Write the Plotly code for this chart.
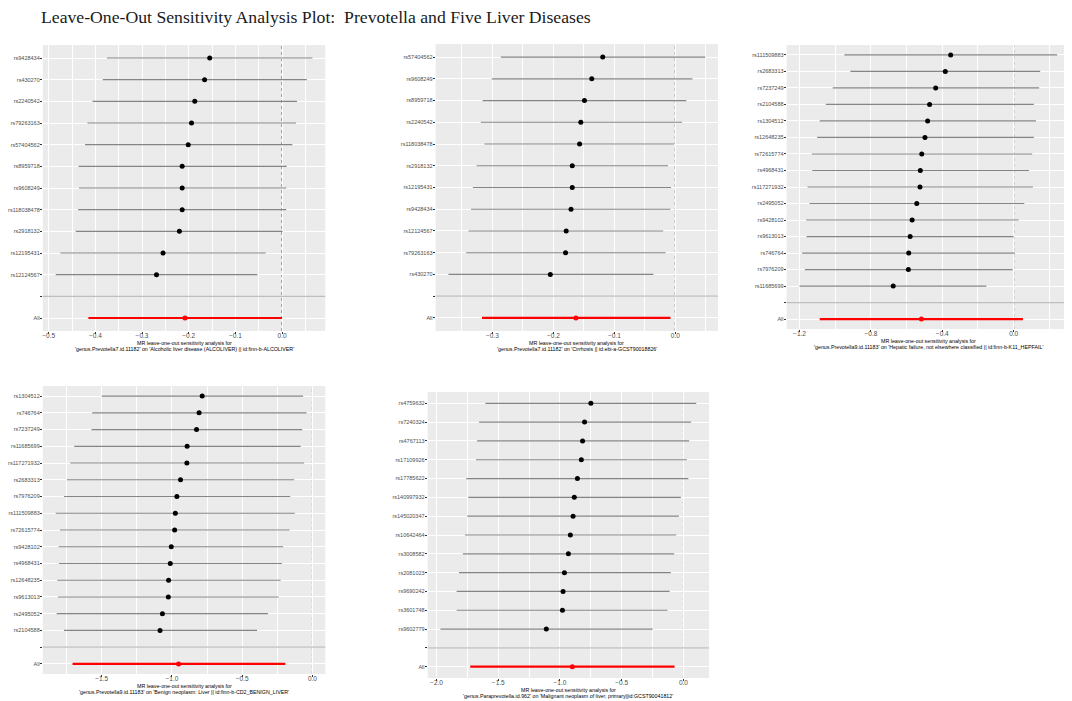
## Leave-one-out sensitivity analysis: Prevotella and five liver diseases

import plotly.graph_objects as go

W, H = 1072, 701
OFF = 8  # the page body adds an 8px margin, so shift layout positions back by that much

# Panel 1 - Alcoholic liver disease
p1_snps = ["rs9428434", "rs430270", "rs2240542", "rs79263163", "rs57404562", "rs8959718",
           "rs9608249", "rs118038478", "rs2918132", "rs12195431", "rs12124567"]
p1_b = [-0.155, -0.166, -0.187, -0.194, -0.201, -0.214, -0.214, -0.214, -0.220, -0.255, -0.269]
p1_lo = [-0.375, -0.384, -0.406, -0.417, -0.422, -0.436, -0.435, -0.437, -0.442, -0.475, -0.485]
p1_hi = [0.065, 0.053, 0.032, 0.030, 0.022, 0.010, 0.009, 0.009, 0.001, -0.035, -0.053]
p1_all = [-0.208, -0.415, 0.000]  # b, lo, hi

# Panel 2 - Cirrhosis
p2_snps = ["rs57404562", "rs9608249", "rs8959718", "rs2240542", "rs118038478", "rs2918132",
           "rs12195431", "rs9428434", "rs12124567", "rs79263163", "rs430270"]
p2_b = [-0.119, -0.137, -0.149, -0.155, -0.157, -0.169, -0.169, -0.171, -0.179, -0.180, -0.205]
p2_lo = [-0.286, -0.301, -0.316, -0.319, -0.313, -0.326, -0.332, -0.335, -0.339, -0.343, -0.372]
p2_hi = [0.049, 0.028, 0.018, 0.011, -0.002, -0.012, -0.007, -0.008, -0.020, -0.016, -0.036]
p2_all = [-0.163, -0.317, -0.008]

# Panel 3 - Hepatic failure
p3_snps = ["rs111509883", "rs2683313", "rs7237249", "rs2104588", "rs1304512", "rs12648235",
           "rs72615774", "rs4968431", "rs117271932", "rs2495052", "rs9428102", "rs9613013",
           "rs746764", "rs7976209", "rs11685699"]
p3_b = [-0.353, -0.383, -0.437, -0.471, -0.482, -0.497, -0.515, -0.523, -0.525, -0.543,
        -0.569, -0.580, -0.588, -0.590, -0.675]
p3_lo = [-0.949, -0.915, -1.014, -1.053, -1.087, -1.101, -1.131, -1.129, -1.155, -1.144,
         -1.163, -1.161, -1.185, -1.170, -1.200]
p3_hi = [0.244, 0.149, 0.143, 0.113, 0.125, 0.113, 0.104, 0.086, 0.108, 0.060,
         0.028, 0.000, 0.007, -0.006, -0.153]
p3_all = [-0.517, -1.087, 0.052]

# Panel 4 - Benign neoplasm: liver
p4_snps = ["rs1304512", "rs746764", "rs7237249", "rs11685699", "rs117271932", "rs2683313",
           "rs7976209", "rs111509883", "rs72615774", "rs9428102", "rs4968431", "rs12648235",
           "rs9613013", "rs2495052", "rs2104588"]
p4_b = [-0.785, -0.807, -0.825, -0.892, -0.894, -0.939, -0.965, -0.976, -0.981, -1.005,
        -1.012, -1.024, -1.026, -1.068, -1.085]
p4_lo = [-1.500, -1.568, -1.573, -1.696, -1.724, -1.748, -1.769, -1.828, -1.797, -1.807,
         -1.804, -1.816, -1.811, -1.821, -1.769]
p4_hi = [-0.066, -0.042, -0.073, -0.083, -0.059, -0.130, -0.158, -0.125, -0.163, -0.208,
         -0.217, -0.226, -0.241, -0.316, -0.394]
p4_all = [-0.953, -1.708, -0.193]

# Panel 5 - Malignant neoplasm of liver
p5_snps = ["rs4759632", "rs7240324", "rs4767113", "rs17109926", "rs17785622", "rs140997932",
           "rs145020347", "rs10642464", "rs3008582", "rs2081023", "rs9690242", "rs3601748",
           "rs9602779"]
p5_b = [-0.750, -0.801, -0.817, -0.827, -0.859, -0.884, -0.894, -0.916, -0.932, -0.964,
        -0.975, -0.980, -1.111]
p5_lo = [-1.604, -1.655, -1.671, -1.681, -1.759, -1.743, -1.751, -1.770, -1.786, -1.818,
         -1.837, -1.837, -1.968]
p5_hi = [0.104, 0.062, 0.046, 0.027, 0.040, -0.021, -0.037, -0.059, -0.075, -0.102,
         -0.112, -0.129, -0.249]
p5_all = [-0.900, -1.727, -0.072]

title_line1 = "MR leave-one-out sensitivity analysis for"
title_line2 = [
    "'genus.Prevotella7.id.11182' on 'Alcoholic liver disease (ALCOLIVER) || id:finn-b-ALCOLIVER'",
    "'genus.Prevotella7.id.11182' on 'Cirrhosis || id:ebi-a-GCST90018826'",
    "'genus.Prevotella9.id.11183' on 'Hepatic failure, not elsewhere classified || id:finn-b-K11_HEPFAIL'",
    "'genus.Prevotella9.id.11183' on 'Benign neoplasm: Liver || id:finn-b-CD2_BENIGN_LIVER'",
    "'genus.Paraprevotella.id.962' on 'Malignant neoplasm of liver, primary||id:GCST90041812'",
]
dticks = [0.1, 0.1, 0.4, 0.5, 0.5]

# panel boxes in page pixels: left, right, top, bottom
boxes = [(37, 321, 45, 331), (432, 716, 44, 331), (785, 1070, 45, 329),
         (37, 321, 386, 674), (424, 707, 392, 678)]


def fx(px):
    return (px - OFF) / W


def fy(py):
    return 1 - (py - OFF) / H


panels = [(p1_snps, p1_b, p1_lo, p1_hi, p1_all),
          (p2_snps, p2_b, p2_lo, p2_hi, p2_all),
          (p3_snps, p3_b, p3_lo, p3_hi, p3_all),
          (p4_snps, p4_b, p4_lo, p4_hi, p4_all),
          (p5_snps, p5_b, p5_lo, p5_hi, p5_all)]

fig = go.Figure()

for i, (snps, b, lo, hi, tot) in enumerate(panels):
    n = i + 1
    xa = "x" if n == 1 else "x%d" % n
    ya = "y" if n == 1 else "y%d" % n

    # per-SNP estimates
    fig.add_trace(go.Scatter(
        x=b, y=snps, mode="markers", xaxis=xa, yaxis=ya, showlegend=False,
        marker=dict(color="black", size=5),
        error_x=dict(type="data", symmetric=False,
                     array=[h - v for h, v in zip(hi, b)],
                     arrayminus=[v - l for v, l in zip(b, lo)],
                     width=0, color="#858585", thickness=1.2),
    ))
    # combined estimate
    fig.add_trace(go.Scatter(
        x=[tot[0]], y=["All"], mode="markers", xaxis=xa, yaxis=ya, showlegend=False,
        marker=dict(color="red", size=5),
        error_x=dict(type="data", symmetric=False, array=[tot[2] - tot[0]],
                     arrayminus=[tot[0] - tot[1]], width=0, color="red", thickness=2.2),
    ))

    # x scale like ggplot: include 0, expand 5%
    vals = lo + hi + [tot[1], tot[2], 0]
    mn, mx = min(vals), max(vals)
    pad = 0.05 * (mx - mn)

    cats = ["All", " "] + snps[::-1]
    l, r, t, btm = boxes[i]
    axis_common = dict(showline=False, zeroline=False, ticks="outside", ticklen=2,
                       tickcolor="#333333", gridcolor="white", gridwidth=1)
    fig.layout["xaxis" if n == 1 else "xaxis%d" % n] = dict(
        axis_common, domain=[fx(l), fx(r)], anchor=ya, range=[mn - pad, mx + pad],
        tick0=0, dtick=dticks[i], tickformat=".1f", ticklabelstandoff=-4,
        tickfont=dict(size=6.5, color="#4d4d4d"),
        minor=dict(showgrid=True, gridcolor="white", gridwidth=0.5, dtick=dticks[i] / 2, tick0=0),
    )
    fig.layout["yaxis" if n == 1 else "yaxis%d" % n] = dict(
        axis_common, domain=[fy(btm), fy(t)], anchor=xa, type="category",
        categoryorder="array", categoryarray=cats, range=[-0.6, len(cats) - 0.4],
        ticklabelstandoff=-1, tickfont=dict(size=5.5, color="#4d4d4d"),
    )

    # dotted line at zero and grey separator above "All"
    fig.add_shape(type="line", xref=xa, yref=ya + " domain", x0=0, x1=0, y0=0, y1=1,
                  line=dict(color="#444444", width=1, dash="dot"), layer="below")
    fig.add_shape(type="line", xref=xa + " domain", yref=ya, x0=0, x1=1, y0=1, y1=1,
                  line=dict(color="#bebebe", width=1.2), layer="above")

    # two-line x axis title under each panel
    cx = fx((l + r) / 2)
    for k, txt in enumerate([title_line1, title_line2[i]]):
        fig.add_annotation(
            text=txt, xref="paper", yref="paper", x=cx, y=fy(btm + 12 + 6.3 * k),
            xanchor="center", yanchor="middle", showarrow=False,
            font=dict(size=5.3, color="black"),
        )

fig.add_annotation(
    text="Leave-One-Out Sensitivity Analysis Plot:  Prevotella and Five Liver Diseases",
    xref="paper", yref="paper", x=fx(33), y=fy(5), xanchor="left", yanchor="top",
    showarrow=False, font=dict(family="Liberation Serif", size=17.7, color="#1a1a1a"),
)

fig.update_layout(
    width=W, height=H,
    margin=dict(l=0, r=0, t=0, b=0),
    paper_bgcolor="white",
    plot_bgcolor="#ebebeb",
    font=dict(family="Liberation Sans", color="#4d4d4d"),
)

fig.write_html("out.html")
